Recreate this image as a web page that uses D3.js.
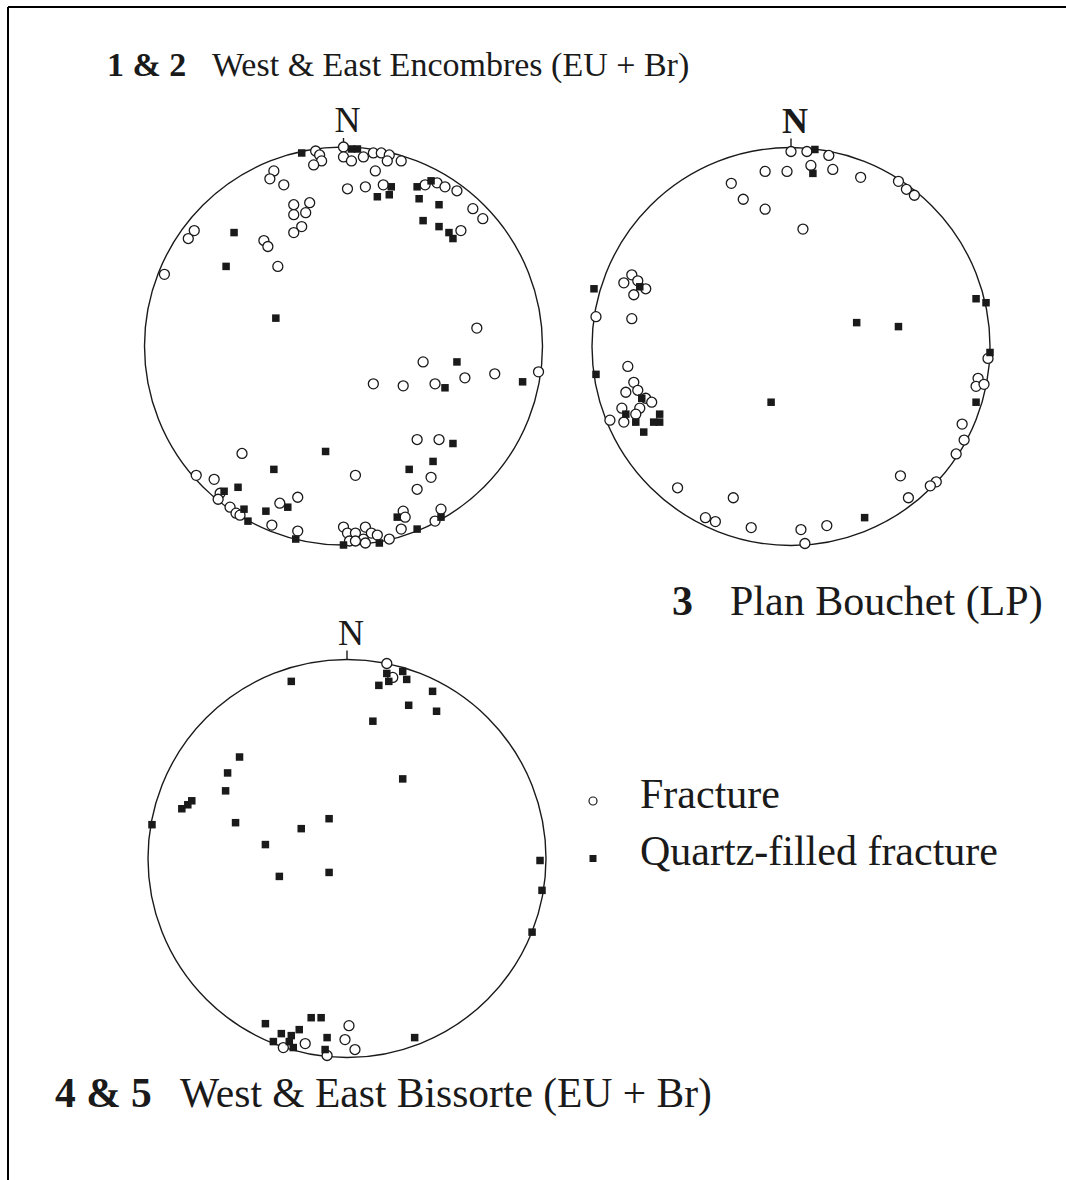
<!DOCTYPE html>
<html>
<head>
<meta charset="utf-8">
<script src="https://cdn.jsdelivr.net/npm/d3@7"></script>
<style>
  html, body { margin: 0; padding: 0; background: #fff; }
  svg { display: block; }
  text { font-family: "Liberation Serif", "Times New Roman", serif; fill: #1a1a1a; }
</style>
</head>
<body>
<svg id="fig" width="1066" height="1180"></svg>
<script>
// Poles to fractures, projected onto the lower hemisphere net.
// Each pair is [east, north] on the unit primitive circle.

// 1 & 2 West & East Encombres (EU + Br)
const encombresFracture = [
  [-0.14,0.98],[-0.12,0.96],[-0.11,0.93],[-0.15,0.91],[0.00,1.00],[0.00,0.95],
  [-0.35,0.88],[-0.37,0.84],[-0.30,0.81],[0.02,0.79],[-0.25,0.71],[-0.17,0.72],
  [-0.25,0.66],[-0.19,0.67],[-0.21,0.60],[-0.25,0.57],[-0.75,0.58],[-0.78,0.54],
  [-0.40,0.53],[-0.38,0.50],[-0.33,0.40],[-0.90,0.36],
  [0.04,0.93],[0.10,0.95],[0.15,0.97],[0.19,0.97],[0.23,0.96],[0.22,0.93],
  [0.29,0.93],[0.16,0.88],[0.11,0.80],[0.20,0.81],[0.41,0.81],[0.47,0.82],
  [0.51,0.80],[0.57,0.78],[0.65,0.69],[0.70,0.64],[0.59,0.58],[0.67,0.09],
  [-0.51,-0.54],[-0.74,-0.65],[-0.65,-0.67],[-0.62,-0.74],[-0.63,-0.77],
  [-0.57,-0.81],[-0.54,-0.84],[-0.52,-0.85],[-0.32,-0.79],[-0.23,-0.76],
  [-0.36,-0.90],[-0.23,-0.93],[0.00,-0.91],[0.02,-0.94],
  [0.40,-0.08],[0.15,-0.19],[0.30,-0.20],[0.46,-0.19],[0.61,-0.16],[0.76,-0.14],
  [0.98,-0.13],[0.37,-0.47],[0.48,-0.47],[0.44,-0.66],[0.37,-0.72],[0.06,-0.65],
  [0.30,-0.83],[0.31,-0.86],[0.49,-0.82],[0.46,-0.88],[0.29,-0.92],[0.23,-0.97],
  [0.06,-0.94],[0.11,-0.91],[0.14,-0.94],[0.17,-0.95],[0.10,-0.97],[0.03,-0.98],
  [0.06,-0.98],[0.11,-0.99]
];
const encombresQuartz = [
  [-0.21,0.97],[-0.55,0.57],[-0.59,0.40],[-0.34,0.14],[0.04,0.99],[0.07,0.99],
  [0.24,0.80],[0.17,0.75],[0.23,0.76],[0.37,0.80],[0.44,0.83],[0.38,0.74],
  [0.48,0.71],[0.40,0.63],[0.48,0.60],[0.53,0.57],[0.55,0.54],
  [-0.09,-0.53],[-0.35,-0.62],[-0.53,-0.71],[-0.60,-0.73],[-0.50,-0.82],
  [-0.39,-0.83],[-0.28,-0.81],[-0.48,-0.88],[-0.24,-0.97],[0.00,-1.00],
  [0.57,-0.08],[0.51,-0.21],[0.90,-0.18],[0.55,-0.49],[0.45,-0.58],[0.33,-0.62],
  [0.27,-0.86],[0.49,-0.86],[0.37,-0.92],[0.18,-0.99]
];

// 3 Plan Bouchet (LP)
const bouchetFracture = [
  [0.00,0.98],[-0.13,0.88],[-0.02,0.88],[-0.30,0.82],[-0.24,0.74],[-0.13,0.69],
  [-0.80,0.36],[-0.84,0.32],[-0.77,0.33],[-0.73,0.29],[-0.79,0.26],[-0.98,0.15],
  [-0.80,0.14],[0.08,0.98],[0.19,0.96],[0.10,0.91],[0.21,0.89],[0.35,0.85],
  [0.54,0.83],[0.58,0.79],[0.62,0.76],[0.06,0.59],
  [-0.82,-0.10],[-0.79,-0.18],[-0.83,-0.23],[-0.77,-0.22],[-0.73,-0.26],
  [-0.70,-0.28],[-0.85,-0.31],[-0.76,-0.31],[-0.78,-0.34],[-0.84,-0.38],
  [-0.91,-0.37],[-0.57,-0.71],[-0.29,-0.76],[-0.43,-0.86],[-0.38,-0.88],
  [-0.20,-0.91],[0.99,-0.06],[0.94,-0.16],[0.93,-0.20],[0.97,-0.19],
  [0.86,-0.39],[0.87,-0.47],[0.83,-0.54],[0.55,-0.65],[0.73,-0.68],[0.70,-0.70],
  [0.59,-0.76],[0.18,-0.90],[0.05,-0.92],[0.07,-0.99]
];
const bouchetQuartz = [
  [-0.99,0.29],[-0.76,0.30],[0.12,0.99],[0.11,0.87],[0.93,0.24],[0.98,0.22],
  [0.33,0.12],[0.54,0.10],[-0.98,-0.14],[-0.75,-0.26],[-0.83,-0.34],[-0.78,-0.38],
  [-0.66,-0.34],[-0.69,-0.38],[-0.66,-0.38],[-0.74,-0.43],[-0.10,-0.28],
  [1.00,-0.03],[0.93,-0.28],[0.37,-0.86]
];

// 4 & 5 West & East Bissorte (EU + Br)
const bissorteFracture = [
  [0.20,0.98],[0.23,0.91],[-0.32,-0.95],[-0.21,-0.93],[0.01,-0.84],[-0.01,-0.91],
  [0.04,-0.96],[-0.10,-0.99]
];
const bissorteQuartz = [
  [-0.28,0.89],[-0.54,0.51],[-0.60,0.43],[-0.61,0.34],[-0.78,0.29],[-0.80,0.27],
  [-0.83,0.25],[-0.98,0.17],[-0.56,0.18],[-0.41,0.07],[-0.23,0.15],[-0.09,0.20],
  [0.20,0.93],[0.28,0.94],[0.30,0.90],[0.21,0.89],[0.16,0.87],[0.43,0.84],
  [0.31,0.77],[0.45,0.74],[0.13,0.69],[0.28,0.40],[0.97,-0.01],[-0.34,-0.09],
  [-0.09,-0.07],[0.98,-0.16],[0.93,-0.37],[-0.41,-0.83],[-0.18,-0.80],
  [-0.13,-0.80],[-0.33,-0.88],[-0.24,-0.86],[-0.28,-0.89],[-0.37,-0.92],
  [-0.29,-0.92],[-0.27,-0.95],[-0.10,-0.90],[-0.11,-0.96],[0.34,-0.90]
];

// Site labels: bold number(s) followed by the locality name
const siteNumbers = ["1 & 2", "3", "4 & 5"];
const siteNames = ["West & East Encombres (EU + Br)", "Plan Bouchet (LP)", "West & East Bissorte (EU + Br)"];
const legendLabels = ["Fracture", "Quartz-filled fracture"];

// ---------------------------------------------------------------------------
const svg = d3.select("#fig");
const INK = "#1a1a1a";

// frame lines along the top and left edge
svg.append("line").attr("x1", 8).attr("x2", 1066).attr("y1", 7).attr("y2", 7)
  .attr("stroke", "#000").attr("stroke-width", 2.2);
svg.append("line").attr("x1", 8).attr("x2", 8).attr("y1", 7).attr("y2", 1180)
  .attr("stroke", "#000").attr("stroke-width", 2);

const nets = [
  { cx: 343.5, cy: 346, r: 199, fr: encombresFracture, qz: encombresQuartz, nBold: false },
  { cx: 791,   cy: 346.5, r: 199, fr: bouchetFracture, qz: bouchetQuartz, nBold: true },
  { cx: 347,   cy: 858.5, r: 199, fr: bissorteFracture, qz: bissorteQuartz, nBold: false }
];

const SQ = 7.5;     // side of quartz-filled symbol
const CR = 5;       // radius of fracture symbol

nets.forEach(net => {
  const x = d3.scaleLinear().domain([-1, 1]).range([net.cx - net.r, net.cx + net.r]);
  const y = d3.scaleLinear().domain([-1, 1]).range([net.cy + net.r, net.cy - net.r]);
  const g = svg.append("g");

  // primitive circle
  g.append("circle").attr("cx", x(0)).attr("cy", y(0)).attr("r", x(1) - x(0))
    .attr("fill", "none").attr("stroke", INK).attr("stroke-width", 1.4);

  // north tick and label
  g.append("line").attr("x1", x(0)).attr("x2", x(0))
    .attr("y1", y(1) - 9).attr("y2", y(1))
    .attr("stroke", INK).attr("stroke-width", 1.4);
  g.append("text").attr("x", x(0) + 4).attr("y", y(1) - 15)
    .attr("text-anchor", "middle").attr("font-size", 36)
    .attr("font-weight", net.nBold ? "bold" : "normal").text("N");

  // fracture poles (open circles)
  g.selectAll("circle.fr").data(net.fr).join("circle").attr("class", "fr")
    .attr("cx", d => x(d[0])).attr("cy", d => y(d[1])).attr("r", CR)
    .attr("fill", "#fff").attr("stroke", INK).attr("stroke-width", 1.3);

  // quartz-filled fracture poles (filled squares)
  g.selectAll("rect.qz").data(net.qz).join("rect").attr("class", "qz")
    .attr("x", d => x(d[0]) - SQ / 2).attr("y", d => y(d[1]) - SQ / 2)
    .attr("width", SQ).attr("height", SQ).attr("fill", INK);
});

// site titles
const titlePos = [
  { x: 107, y: 76,   gap: 105, size: 34 },
  { x: 672, y: 615,  gap: 58,  size: 42 },
  { x: 55,  y: 1107, gap: 125, size: 41.5 }
];
titlePos.forEach((p, i) => {
  const t = svg.append("text").attr("x", p.x).attr("y", p.y).attr("font-size", p.size);
  t.append("tspan").attr("font-weight", "bold").text(siteNumbers[i]);
  t.append("tspan").attr("x", p.x + p.gap).text(siteNames[i]);
});

// legend
const lg = svg.append("g");
lg.append("circle").attr("cx", 593).attr("cy", 801).attr("r", 4)
  .attr("fill", "#fff").attr("stroke", INK).attr("stroke-width", 1.2);
lg.append("rect").attr("x", 589.5).attr("y", 855).attr("width", 7).attr("height", 7).attr("fill", INK);
lg.selectAll("text").data(legendLabels).join("text")
  .attr("x", 640).attr("y", (d, i) => 808 + i * 57)
  .attr("font-size", 42).text(d => d);
</script>
</body>
</html>
